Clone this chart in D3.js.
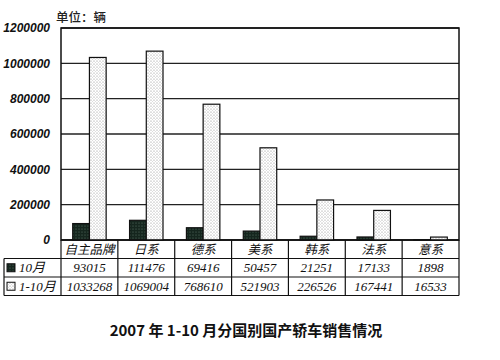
<!DOCTYPE html>
<html>
<head>
<meta charset="utf-8">
<script src="https://cdn.jsdelivr.net/npm/d3@7"></script>
<style>
  body { margin: 0; background: #fff; }
  svg { display: block; }
</style>
</head>
<body>
<div id="chart"></div>
<script>
// data
const categories = ["自主品牌", "日系", "德系", "美系", "韩系", "法系", "意系"];
const octValues = [93015, 111476, 69416, 50457, 21251, 17133, 1898];
const ytdValues = [1033268, 1069004, 768610, 521903, 226526, 167441, 16533];
const seriesNames = ["10月", "1-10月"];
const yTicks = [0, 200000, 400000, 600000, 800000, 1000000, 1200000];

const width = 500, height = 360;
const plot = { left: 61, right: 459, top: 28, bottom: 240 };
const rowH = 18.5, legendLeft = 4;

const svg = d3.select("#chart").append("svg")
    .attr("width", width)
    .attr("height", height);

// patterns for the scanned-looking fills
const defs = svg.append("defs");
const darkPat = defs.append("pattern")
    .attr("id", "darkdots").attr("patternUnits", "userSpaceOnUse")
    .attr("width", 3).attr("height", 3);
darkPat.append("rect").attr("width", 3).attr("height", 3).attr("fill", "#15261e");
darkPat.append("circle").attr("cx", 1).attr("cy", 1).attr("r", 0.55).attr("fill", "#5f7a6c");

const lightPat = defs.append("pattern")
    .attr("id", "lightdots").attr("patternUnits", "userSpaceOnUse")
    .attr("width", 3).attr("height", 3);
lightPat.append("rect").attr("width", 3).attr("height", 3).attr("fill", "#fff");
lightPat.append("circle").attr("cx", 1).attr("cy", 1).attr("r", 0.6).attr("fill", "#8a8a8a");
lightPat.append("circle").attr("cx", 2.5).attr("cy", 2.5).attr("r", 0.4).attr("fill", "#b0b0b0");

const x = d3.scaleBand()
    .domain(categories)
    .range([plot.left, plot.right]);

const y = d3.scaleLinear()
    .domain([0, 1200000])
    .range([plot.bottom, plot.top]);

const sub = d3.scaleBand()
    .domain(seriesNames)
    .range([0, x.bandwidth()])
    .paddingInner(0)
    .paddingOuter(0.7);

// gridlines
svg.append("g")
  .selectAll("line")
  .data(yTicks)
  .join("line")
    .attr("x1", plot.left).attr("x2", plot.right)
    .attr("y1", d => y(d)).attr("y2", d => y(d))
    .attr("stroke", "#222").attr("stroke-width", 1.3);

// plot frame
svg.append("rect")
    .attr("x", plot.left).attr("y", plot.top)
    .attr("width", plot.right - plot.left).attr("height", plot.bottom - plot.top)
    .attr("fill", "none").attr("stroke", "#111").attr("stroke-width", 1.5);

// y axis labels
const yAxis = d3.axisLeft(y).tickValues(yTicks).tickSize(0).tickPadding(11)
    .tickFormat(d3.format("d"));
const yg = svg.append("g")
    .attr("transform", `translate(${plot.left},0)`)
    .call(yAxis);
yg.select(".domain").remove();
yg.selectAll("text")
    .attr("font-family", "Liberation Sans, Arial, sans-serif")
    .attr("font-size", 12)
    .attr("font-weight", "bold")
    .attr("font-style", "italic")
    .attr("fill", "#111");

svg.append("text")
    .attr("x", 56).attr("y", 22)
    .attr("font-family", "Noto Sans CJK SC, sans-serif")
    .attr("font-size", 12.5)
    .attr("font-weight", 500)
    .attr("fill", "#222")
    .text("单位：辆");

// bars
const series = [
  { name: seriesNames[0], values: octValues, fill: "url(#darkdots)" },
  { name: seriesNames[1], values: ytdValues, fill: "url(#lightdots)" }
];

series.forEach(s => {
  svg.append("g")
    .selectAll("rect")
    .data(categories)
    .join("rect")
      .attr("x", d => x(d) + sub(s.name))
      .attr("y", (d, i) => y(s.values[i]))
      .attr("width", sub.bandwidth())
      .attr("height", (d, i) => y(0) - y(s.values[i]))
      .attr("fill", s.fill)
      .attr("stroke", "#111")
      .attr("stroke-width", 1.2);
});

// data table under the plot
const table = svg.append("g")
    .attr("stroke", "#111").attr("stroke-width", 1.2).attr("fill", "none");

const rowsY = [plot.bottom, plot.bottom + rowH, plot.bottom + 2 * rowH, plot.bottom + 3 * rowH];
// horizontal lines
table.append("line").attr("x1", plot.left).attr("x2", plot.right).attr("y1", rowsY[0]).attr("y2", rowsY[0]);
rowsY.slice(1).forEach(yy => {
  table.append("line").attr("x1", legendLeft).attr("x2", plot.right).attr("y1", yy).attr("y2", yy);
});
// vertical lines
table.append("line").attr("x1", legendLeft).attr("x2", legendLeft).attr("y1", rowsY[1]).attr("y2", rowsY[3]);
categories.forEach(c => {
  table.append("line").attr("x1", x(c)).attr("x2", x(c)).attr("y1", rowsY[0]).attr("y2", rowsY[3]);
});
table.append("line").attr("x1", plot.right).attr("x2", plot.right).attr("y1", rowsY[0]).attr("y2", rowsY[3]);

const cellFont = "Liberation Serif, Times New Roman, serif";

svg.append("g")
  .selectAll("text")
  .data(categories)
  .join("text")
    .attr("x", d => x(d) + x.bandwidth() / 2)
    .attr("y", rowsY[0] + rowH / 2 + 4.5)
    .attr("text-anchor", "middle")
    .attr("font-family", "Noto Sans CJK SC, sans-serif")
    .attr("font-size", 12.5)
    .attr("font-style", "italic")
    .attr("fill", "#111")
    .text(d => d);

series.forEach((s, si) => {
  const ry = rowsY[si + 1];
  svg.append("g")
    .selectAll("text")
    .data(categories)
    .join("text")
      .attr("x", d => x(d) + x.bandwidth() / 2)
      .attr("y", ry + rowH / 2 + 4.5)
      .attr("text-anchor", "middle")
      .attr("font-family", cellFont)
      .attr("font-size", 13)
      .attr("font-style", "italic")
      .attr("fill", "#111")
      .text((d, i) => s.values[i]);

  // legend key + name
  svg.append("rect")
      .attr("x", legendLeft + 3).attr("y", ry + rowH / 2 - 4)
      .attr("width", 8).attr("height", 8)
      .attr("fill", s.fill).attr("stroke", "#111").attr("stroke-width", 1);
  svg.append("text")
      .attr("x", legendLeft + 15).attr("y", ry + rowH / 2 + 4.5)
      .attr("font-family", cellFont + ", Noto Sans CJK SC")
      .attr("font-size", 13)
      .attr("font-style", "italic")
      .attr("fill", "#111")
      .text(s.name);
});

// title
svg.append("text")
    .attr("x", 246).attr("y", 336)
    .attr("text-anchor", "middle")
    .attr("font-family", "Noto Sans CJK SC, sans-serif")
    .attr("font-size", 15)
    .attr("font-weight", "bold")
    .attr("fill", "#111")
    .text("2007 年 1-10 月分国别国产轿车销售情况");
</script>
</body>
</html>
